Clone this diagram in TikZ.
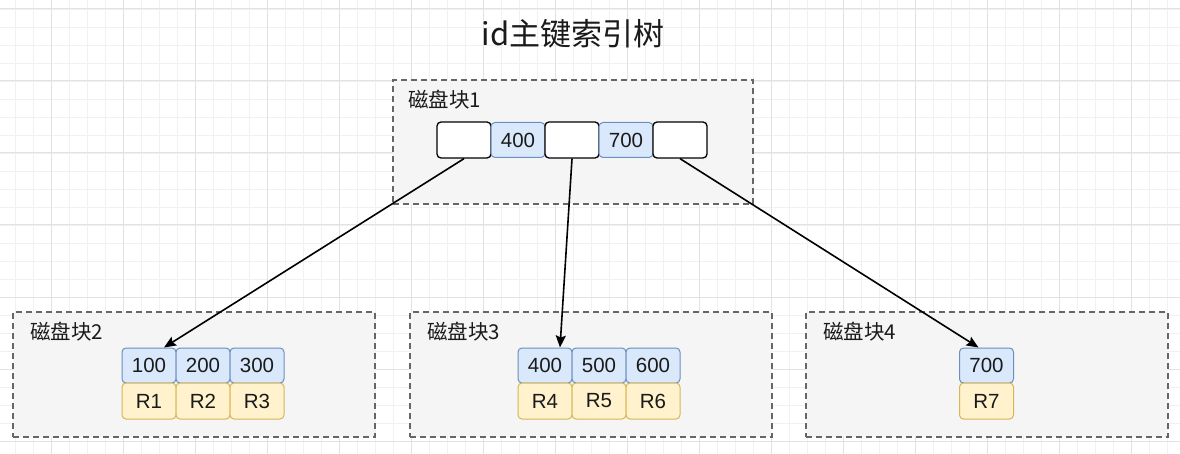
\documentclass[tikz,border=0pt]{standalone}
\usepackage{fontspec}
\setmainfont{Liberation Sans}
\newfontfamily\cjk{Noto Sans CJK SC}
\usetikzlibrary{arrows.meta}
\definecolor{gridminor}{HTML}{F1F1F1}
\definecolor{gridmajor}{HTML}{E2E2E2}
\definecolor{blkfill}{HTML}{F5F5F5}
\definecolor{blkline}{HTML}{666666}
\definecolor{bluefill}{HTML}{DAE8FC}
\definecolor{blueline}{HTML}{6C8EBF}
\definecolor{yelfill}{HTML}{FFF2CC}
\definecolor{yelline}{HTML}{D6B656}
\definecolor{txt}{HTML}{1A1A1A}
\tikzset{
  blk/.style={draw=blkline, fill=blkfill, line width=1.3pt, dash pattern=on 6pt off 4pt, inner sep=0pt},
  cellbase/.style={rounded corners=4pt, inner sep=0pt, minimum width=54pt, text=txt, font=\fontsize{20.5}{24}\selectfont},
  ptr/.style={cellbase, draw=black, fill=white, line width=1.3pt, minimum height=36pt},
  key/.style={cellbase, draw=blueline, fill=bluefill, line width=1pt, minimum height=35pt},
  rec/.style={cellbase, draw=yelline, fill=yelfill, line width=1pt, minimum height=36pt},
  lbl/.style={anchor=west, inner sep=0pt, text=txt, font=\fontsize{20.5}{24}\selectfont\cjk},
  link/.style={draw=black, line width=1.6pt, -{Stealth[length=12pt,width=10pt,inset=2pt]}},
}
\begin{document}
\begin{tikzpicture}[x=1pt,y=-1pt]
\useasboundingbox (0,0) rectangle (1180,454);
\fill[white] (0,0) rectangle (1180,454);
% grid
\foreach \gx in {-3,15,...,1180} \draw[gridminor, line width=0.8pt] (\gx,0) -- (\gx,454);
\foreach \gy in {9,27,...,454} \draw[gridminor, line width=0.8pt] (0,\gy) -- (1180,\gy);
\foreach \gx in {51,123,...,1180} \draw[gridmajor, line width=1pt] (\gx,0) -- (\gx,454);
\foreach \gy in {9,81,...,454} \draw[gridmajor, line width=1pt] (0,\gy) -- (1180,\gy);

% title
\node[text=txt, font=\fontsize{31}{36}\selectfont\cjk] (title) at (573,34) {id主键索引树};

% blocks
\node[blk, minimum width=360pt, minimum height=124pt] (blk1) at (573,142) {};
\node[blk, minimum width=362pt, minimum height=125pt] (blk2) at (194,374.5) {};
\node[blk, minimum width=362pt, minimum height=125pt] (blk3) at (591,374.5) {};
\node[blk, minimum width=362pt, minimum height=125pt] (blk4) at (987,374.5) {};

\node[lbl] (l1) at (408,100) {磁盘块1};
\node[lbl] (l2) at (30,332) {磁盘块2};
\node[lbl] (l3) at (427,332) {磁盘块3};
\node[lbl] (l4) at (823,332) {磁盘块4};

% root cells
\node[ptr] (t1) at (464,140) {};
\node[key] (t2) at (518,140) {400};
\node[ptr] (t3) at (572,140) {};
\node[key] (t4) at (626,140) {700};
\node[ptr] (t5) at (680,140) {};

% block 2
\node[key] (k100) at (149,365.5) {100};
\node[key] (k200) at (203,365.5) {200};
\node[key] (k300) at (257,365.5) {300};
\node[rec] (r1) at (149,401) {R1};
\node[rec] (r2) at (203,401) {R2};
\node[rec] (r3) at (257,401) {R3};

% block 3
\node[key] (k400) at (545,365.5) {400};
\node[key] (k500) at (599,365.5) {500};
\node[key] (k600) at (653,365.5) {600};
\node[rec] (r4) at (545,401) {R4};
\node[rec] (r5) at (599,401) {R5};
\node[rec] (r6) at (653,401) {R6};

% block 4
\node[key] (k700) at (986.5,365.5) {700};
\node[rec] (r7) at (986.5,401) {R7};

% pointers
\draw[link] (t1.south) -- ([xshift=15pt]k100.north);
\draw[link] (t3.south) -- ([xshift=15pt]k400.north);
\draw[link] (t5.south) -- ([xshift=-8pt]k700.north);
\end{tikzpicture}
\end{document}
